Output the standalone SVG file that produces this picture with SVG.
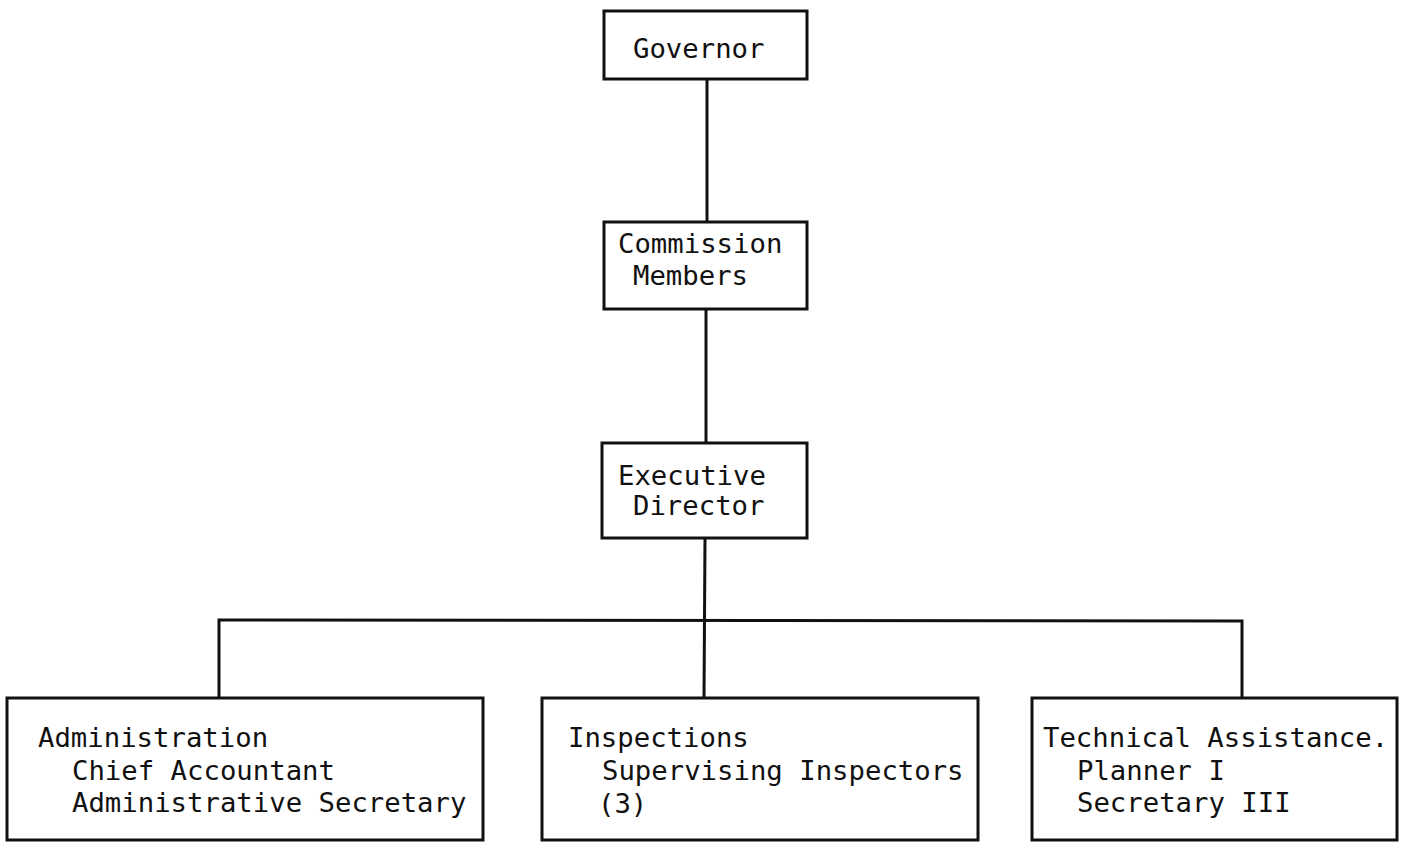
<svg xmlns="http://www.w3.org/2000/svg" width="1407" height="843" viewBox="0 0 1407 843">
<style>
.box{fill:#fff;stroke:#111;stroke-width:3}
.t{font-family:"DejaVu Sans Mono","Liberation Mono",monospace;font-size:27.3px;fill:#111}
.c{stroke:#111;stroke-width:3;fill:none}
</style>
<rect width="1407" height="843" fill="#fff"/>
<g id="connectors">
<line class="c" x1="707" y1="79" x2="707" y2="222"/>
<line class="c" x1="706" y1="309" x2="706" y2="443"/>
<line class="c" x1="705" y1="538" x2="704" y2="698"/>
<polyline class="c" points="219,698 219,620 1242,621 1242,698"/>
</g>
<g id="governor">
<rect class="box" x="604" y="11" width="203" height="68"/>
<text class="t" x="633" y="58">Governor</text>
</g>
<g id="commission">
<rect class="box" x="604" y="222" width="203" height="87"/>
<text class="t" x="618" y="253">Commission</text>
<text class="t" x="633" y="285">Members</text>
</g>
<g id="executive">
<rect class="box" x="602" y="443" width="205" height="95"/>
<text class="t" x="618" y="485">Executive</text>
<text class="t" x="633" y="515">Director</text>
</g>
<g id="administration">
<rect class="box" x="7" y="698" width="476" height="142"/>
<text class="t" x="38" y="747">Administration</text>
<text class="t" x="72" y="780">Chief Accountant</text>
<text class="t" x="72" y="812">Administrative Secretary</text>
</g>
<g id="inspections">
<rect class="box" x="542" y="698" width="436" height="142"/>
<text class="t" x="568" y="747">Inspections</text>
<text class="t" x="602" y="780">Supervising Inspectors</text>
<text class="t" x="598" y="813">(3)</text>
</g>
<g id="technical">
<rect class="box" x="1032" y="698" width="365" height="142"/>
<text class="t" x="1043" y="747">Technical Assistance.</text>
<text class="t" x="1077" y="780">Planner I</text>
<text class="t" x="1077" y="812">Secretary III</text>
</g>
</svg>
